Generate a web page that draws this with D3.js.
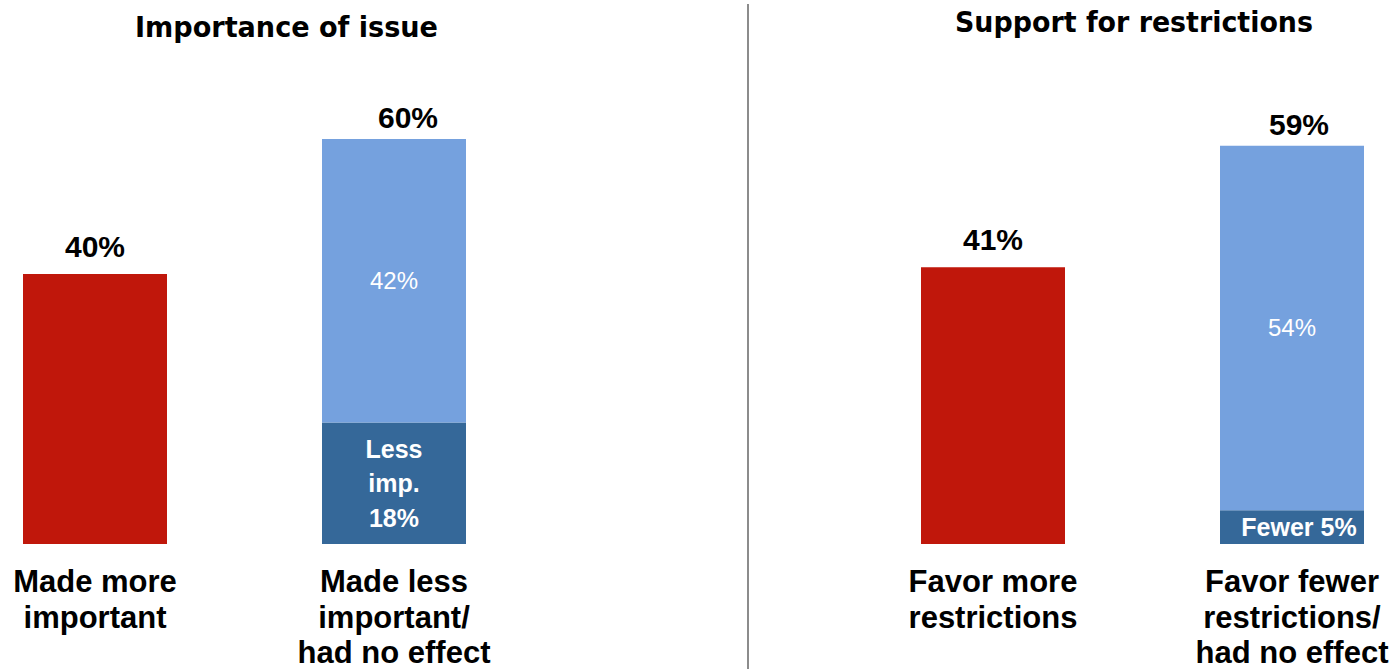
<!DOCTYPE html>
<html>
<head>
<meta charset="utf-8">
<script src="https://cdn.jsdelivr.net/npm/d3@7"></script>
<style>
  html, body { margin: 0; padding: 0; background: #fff; }
  svg { display: block; }
</style>
</head>
<body>
<svg id="chart" width="1395" height="669"></svg>
<script>
// ---- data ----
const panelTitles = ["Importance of issue", "Support for restrictions"];
const leftCategories = [["Made more", "important"], ["Made less", "important/", "had no effect"]];
const rightCategories = [["Favor more", "restrictions"], ["Favor fewer", "restrictions/", "had no effect"]];
const leftSingle = 40;        // Made more important
const leftStackBase = 18;     // Less important
const leftStackTop = 42;      // Had no effect
const rightSingle = 41;       // Favor more restrictions
const rightStackBase = 5;     // Favor fewer
const rightStackTop = 54;     // Had no effect
const leftBaseLabel = ["Less", "imp.", "18%"];
const rightBaseLabel = ["Fewer 5%"];

// ---- styles ----
const RED = "#C0170B", LIGHT = "#75A1DE", DARK = "#356899";
const ARIAL = "'Liberation Sans', Arial, Helvetica, sans-serif";
const NARROW = "'Liberation Sans Narrow', 'DejaVu Sans Condensed', 'Liberation Sans', sans-serif";

const svg = d3.select("#chart");
const y = d3.scaleLinear().domain([0, 60]).range([544, 139]);

const panels = [
  { title: panelTitles[0], titleX: 286.5, titleY: 37, titleW: 303,
    cats: leftCategories, range: [23, 466],
    single: leftSingle, base: leftStackBase, top: leftStackTop,
    baseLabel: leftBaseLabel, totalDx: 14, baseDx: 0 },
  { title: panelTitles[1], titleX: 1134, titleY: 32, titleW: 358,
    cats: rightCategories, range: [921, 1364],
    single: rightSingle, base: rightStackBase, top: rightStackTop,
    baseLabel: rightBaseLabel, totalDx: 7, baseDx: 7 }
];

// divider
svg.append("line").attr("x1", 748).attr("x2", 748).attr("y1", 4).attr("y2", 669)
  .attr("stroke", "#8c8c8c").attr("stroke-width", 2);

panels.forEach(p => {
  const keys = p.cats.map(c => c.join(" "));
  const x = d3.scaleBand().domain(keys).range(p.range).paddingInner(155 / 299).paddingOuter(0);
  const bw = x.bandwidth();
  const g = svg.append("g");

  // title
  g.append("text").attr("x", p.titleX).attr("y", p.titleY)
    .attr("text-anchor", "middle").attr("font-family", NARROW).attr("font-weight", "bold")
    .attr("font-size", 28).attr("fill", "#000")
    .attr("textLength", p.titleW).attr("lengthAdjust", "spacingAndGlyphs")
    .text(p.title);

  // single bar
  const x0 = x(keys[0]);
  g.append("rect").attr("x", x0).attr("y", y(p.single)).attr("width", bw)
    .attr("height", y(0) - y(p.single)).attr("fill", RED);
  g.append("text").attr("x", x0 + bw / 2).attr("y", y(p.single) - 17)
    .attr("text-anchor", "middle").attr("font-family", ARIAL).attr("font-weight", "bold")
    .attr("font-size", 30).attr("fill", "#000").text(p.single + "%");

  // stacked bar
  const x1 = x(keys[1]);
  const stack = [
    { v0: 0, v1: p.base, color: DARK },
    { v0: p.base, v1: p.base + p.top, color: LIGHT }
  ];
  g.selectAll("rect.stk").data(stack).join("rect").attr("class", "stk")
    .attr("x", x1).attr("y", d => y(d.v1)).attr("width", bw)
    .attr("height", d => y(d.v0) - y(d.v1)).attr("fill", d => d.color);

  const total = p.base + p.top;
  g.append("text").attr("x", x1 + bw / 2 + p.totalDx).attr("y", y(total) - 11)
    .attr("text-anchor", "middle").attr("font-family", ARIAL).attr("font-weight", "bold")
    .attr("font-size", 30).attr("fill", "#000").text(total + "%");

  // top segment label
  g.append("text").attr("x", x1 + bw / 2).attr("y", (y(p.base) + y(total)) / 2)
    .attr("dy", "0.35em").attr("text-anchor", "middle").attr("font-family", ARIAL)
    .attr("font-size", 24).attr("fill", "#fff").text(p.top + "%");

  // base segment label
  const midB = (y(0) + y(p.base)) / 2;
  const lh = 34.5;
  const n = p.baseLabel.length;
  g.append("text").attr("text-anchor", "middle").attr("font-family", ARIAL)
    .attr("font-weight", "bold").attr("font-size", 25).attr("fill", "#fff")
    .selectAll("tspan").data(p.baseLabel).join("tspan")
    .attr("x", x1 + bw / 2 + p.baseDx)
    .attr("y", (d, i) => midB + (i - (n - 1) / 2) * lh)
    .attr("dy", "0.35em").text(d => d);

  // category labels
  p.cats.forEach((lines, ci) => {
    g.append("text").attr("text-anchor", "middle").attr("font-family", ARIAL)
      .attr("font-weight", "bold").attr("font-size", 31).attr("fill", "#000")
      .selectAll("tspan").data(lines).join("tspan")
      .attr("x", x(keys[ci]) + bw / 2)
      .attr("y", (d, i) => 592 + i * 35.5)
      .text(d => d);
  });
});
</script>
</body>
</html>
